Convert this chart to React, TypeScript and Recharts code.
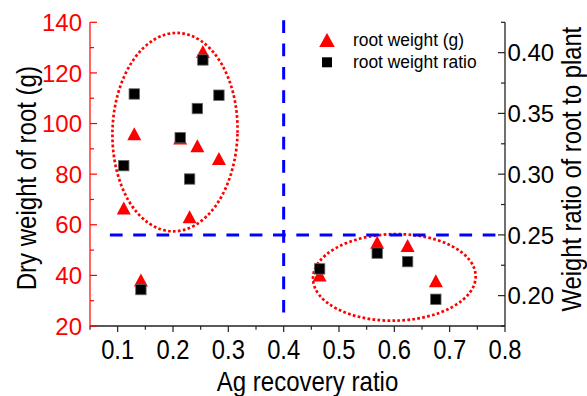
import React from 'react';
import { ScatterChart, Scatter, XAxis, YAxis, ReferenceLine, ReferenceArea, Label } from 'recharts';

// ---- data ----
const agRecovery = [0.111, 0.130, 0.142, 0.213, 0.230, 0.244, 0.254, 0.283, 0.465, 0.569, 0.624, 0.675];
const rootWeight = [66.6, 96.0, 38.2, 94.3, 63.2, 91.2, 128.5, 86.2, 40.2, 53.1, 51.8, 37.9];
const rootRatio = [0.307, 0.366, 0.205, 0.330, 0.296, 0.354, 0.394, 0.365, 0.222, 0.235, 0.228, 0.197];

const xTicks = [0.05, 0.1, 0.15, 0.2, 0.25, 0.3, 0.35, 0.4, 0.45, 0.5, 0.55, 0.6, 0.65, 0.7, 0.75, 0.8];
const leftTicks = [20, 30, 40, 50, 60, 70, 80, 90, 100, 110, 120, 130, 140];
const rightTicks = [0.175, 0.2, 0.225, 0.25, 0.275, 0.3, 0.325, 0.35, 0.375, 0.4, 0.425];

// guide lines and highlighted groups
const vGuideX = 0.4;
const vGuideY = [25.1, 140.8];
const hGuideRatio = 0.25;
const hGuideX = [0.086, 0.787];
const groupA = { x1: 0.0906, x2: 0.3166, y1: 57.4, y2: 135.8 };
const groupB = { x1: 0.453, x2: 0.747, y1: 22.1, y2: 56.3 };

const weightData = agRecovery.map((x, i) => ({ x, y: rootWeight[i] }));
const ratioData = agRecovery.map((x, i) => ({ x, y: rootRatio[i] }));

const FONT = '"Liberation Sans", Arial, Helvetica, sans-serif';
const RED = '#ff0000';
const BLUE = '#0000ff';

const near = (a: number, b: number) => Math.abs(a - b) < 1e-6;
const isMajorX = (v: number) => near(v * 10, Math.round(v * 10));
const isMajorL = (v: number) => near(v % 20, 0);
const isMajorR = (v: number) => near(v * 20, Math.round(v * 20));

const BottomTick = (p: any) => {
  const { x, y, payload } = p;
  const v = payload.value;
  const major = isMajorX(v);
  return (
    <g>
      <line x1={x} y1={y} x2={x} y2={y + (major ? 6 : 3.7)} stroke="#222" strokeWidth={1.2} />
      {major && (
        <text transform={`translate(${x},${y + 33}) scale(0.88,1)`} textAnchor="middle" fontSize={27} fontFamily={FONT} fill="#000">
          {v.toFixed(1)}
        </text>
      )}
    </g>
  );
};

const TopTick = (p: any) => {
  const { x, y } = p;
  return <line x1={x} y1={y} x2={x} y2={y + 2.5} stroke="#222" strokeWidth={1.2} />;
};

const LeftTick = (p: any) => {
  const { x, y, payload } = p;
  const v = payload.value;
  const major = isMajorL(v);
  return (
    <g>
      <line x1={x} y1={y} x2={x + (major ? 7 : 4)} y2={y} stroke={RED} strokeWidth={1.2} />
      {major && (
        <text x={x - 8} y={y} dy="0.36em" textAnchor="end" fontSize={24} fontFamily={FONT} fill={RED}>
          {v}
        </text>
      )}
    </g>
  );
};

const RightTick = (p: any) => {
  const { x, y, payload } = p;
  const v = payload.value;
  const major = isMajorR(v);
  return (
    <g>
      <line x1={x} y1={y} x2={x - (major ? 7 : 4)} y2={y} stroke="#222" strokeWidth={1.2} />
      {major && (
        <text x={x + 2.5} y={y} dy="0.36em" textAnchor="start" fontSize={24} fontFamily={FONT} fill="#000">
          {v.toFixed(2)}
        </text>
      )}
    </g>
  );
};

const Triangle = (p: any) => {
  const { cx, cy } = p;
  if (cx == null || cy == null) return null;
  return <polygon points={`${cx},${cy - 6.5} ${cx - 7},${cy + 6.5} ${cx + 7},${cy + 6.5}`} fill={RED} />;
};

const Square = (p: any) => {
  const { cx, cy } = p;
  if (cx == null || cy == null) return null;
  return <rect x={cx - 5.2} y={cy - 5.2} width={10.4} height={10.4} fill="#000" stroke="#666" strokeWidth={0.8} />;
};

const makeEllipse = (rot: number) => (p: any) => {
  const { x, y, width, height } = p;
  if (x == null) return null;
  const cx = x + width / 2;
  const cy = y + height / 2;
  return (
    <ellipse
      cx={cx}
      cy={cy}
      rx={Math.abs(width) / 2}
      ry={Math.abs(height) / 2}
      fill="none"
      stroke={RED}
      strokeWidth={2.7}
      strokeDasharray="2.7 2.3"
      transform={`rotate(${rot},${cx},${cy})`}
    />
  );
};

const BottomTitle = (p: any) => {
  const vb = p.viewBox || { x: 90, y: 326, width: 415, height: 70 };
  const cx = vb.x + vb.width / 2 + 10;
  const y = vb.y + 65;
  return (
    <text transform={`translate(${cx},${y}) scale(0.89,1)`} textAnchor="middle" fontSize={27} fontFamily={FONT} fill="#000">
      Ag recovery ratio
    </text>
  );
};

const LeftTitle = (p: any) => {
  const vb = p.viewBox || { x: 0, y: 22.7, width: 90, height: 303.3 };
  const cy = vb.y + vb.height / 2 + 4;
  const x = vb.x + 36.2;
  return (
    <text transform={`translate(${x},${cy}) rotate(-90) scale(0.89,1)`} textAnchor="middle" fontSize={27} fontFamily={FONT} fill="#000">
      Dry weight of root (g)
    </text>
  );
};

const RightTitle = (p: any) => {
  const vb = p.viewBox || { x: 505, y: 22.7, width: 82, height: 303.3 };
  const cy = vb.y + vb.height / 2 - 5;
  const x = vb.x + 75.5;
  return (
    <text transform={`translate(${x},${cy}) rotate(-90) scale(0.88,1)`} textAnchor="middle" fontSize={27} fontFamily={FONT} fill="#000">
      Weight ratio of root to plant
    </text>
  );
};

const legendItems = [
  { name: 'root weight (g)', kind: 'triangle' },
  { name: 'root weight ratio', kind: 'square' },
];

const LegendOverlay = () => (
  <svg width={587} height={396} style={{ position: 'absolute', left: 0, top: 0, pointerEvents: 'none' }}>
    {legendItems.map((it, i) => {
      const cy = 40 + i * 22.3;
      return (
        <g key={it.name}>
          {it.kind === 'triangle' ? (
            <polygon points={`327,${cy - 7} 319.2,${cy + 7} 334.8,${cy + 7}`} fill={RED} />
          ) : (
            <rect x={322} y={cy - 5} width={10} height={10} fill="#000" />
          )}
          <text transform={`translate(353,${cy + 5.9}) scale(0.94,1)`} fontSize={18.5} fontFamily={FONT} fill="#000">
            {it.name}
          </text>
        </g>
      );
    })}
  </svg>
);

export default function App() {
  return (
    <div style={{ position: 'absolute', left: 0, top: 0, width: 587, height: 396, background: '#fff' }}>
      <ScatterChart width={587} height={396} margin={{ top: 22.3, right: 0, bottom: 0, left: 0 }}>
        <XAxis
          dataKey="x"
          type="number"
          domain={[0.05, 0.8]}
          ticks={xTicks}
          interval={0}
          height={70}
          tickSize={0}
          tickMargin={0}
          tick={<BottomTick />}
          axisLine={{ stroke: '#222', strokeWidth: 1.3 }}
          allowDataOverflow
        >
          <Label content={<BottomTitle />} />
        </XAxis>
        <XAxis
          xAxisId="top"
          orientation="top"
          dataKey="x"
          type="number"
          domain={[0.05, 0.8]}
          ticks={xTicks}
          interval={0}
          height={0}
          tickSize={0}
          tickMargin={0}
          tick={<TopTick />}
          axisLine={{ stroke: '#222', strokeWidth: 1.3 }}
          allowDataOverflow
        />
        <YAxis
          yAxisId="left"
          dataKey="y"
          type="number"
          domain={[20, 140]}
          ticks={leftTicks}
          interval={0}
          width={90}
          tickSize={0}
          tickMargin={0}
          tick={<LeftTick />}
          axisLine={{ stroke: RED, strokeWidth: 1.2 }}
          allowDataOverflow
        >
          <Label content={<LeftTitle />} />
        </YAxis>
        <YAxis
          yAxisId="right"
          orientation="right"
          dataKey="y"
          type="number"
          domain={[0.175, 0.425]}
          ticks={rightTicks}
          interval={0}
          width={82}
          tickSize={0}
          tickMargin={0}
          tick={<RightTick />}
          axisLine={{ stroke: '#222', strokeWidth: 1.3 }}
          allowDataOverflow
        >
          <Label content={<RightTitle />} />
        </YAxis>

        <ReferenceArea yAxisId="left" x1={groupA.x1} x2={groupA.x2} y1={groupA.y1} y2={groupA.y2} shape={makeEllipse(1.6)} ifOverflow="visible" />
        <ReferenceArea yAxisId="left" x1={groupB.x1} x2={groupB.x2} y1={groupB.y1} y2={groupB.y2} shape={makeEllipse(-1)} ifOverflow="visible" />

        <ReferenceLine
          yAxisId="left"
          segment={[{ x: vGuideX, y: vGuideY[1] }, { x: vGuideX, y: vGuideY[0] }]}
          stroke={BLUE}
          strokeWidth={3}
          strokeDasharray="12.7 10.6"
          ifOverflow="visible"
        />
        <ReferenceLine
          yAxisId="right"
          segment={[{ x: hGuideX[0], y: hGuideRatio }, { x: hGuideX[1], y: hGuideRatio }]}
          stroke={BLUE}
          strokeWidth={3}
          strokeDasharray="12.7 10.6"
          ifOverflow="visible"
        />

        <Scatter name="root weight (g)" yAxisId="left" data={weightData} shape={<Triangle />} isAnimationActive={false} />
        <Scatter name="root weight ratio" yAxisId="right" data={ratioData} shape={<Square />} isAnimationActive={false} />
      </ScatterChart>
      <LegendOverlay />
    </div>
  );
}
